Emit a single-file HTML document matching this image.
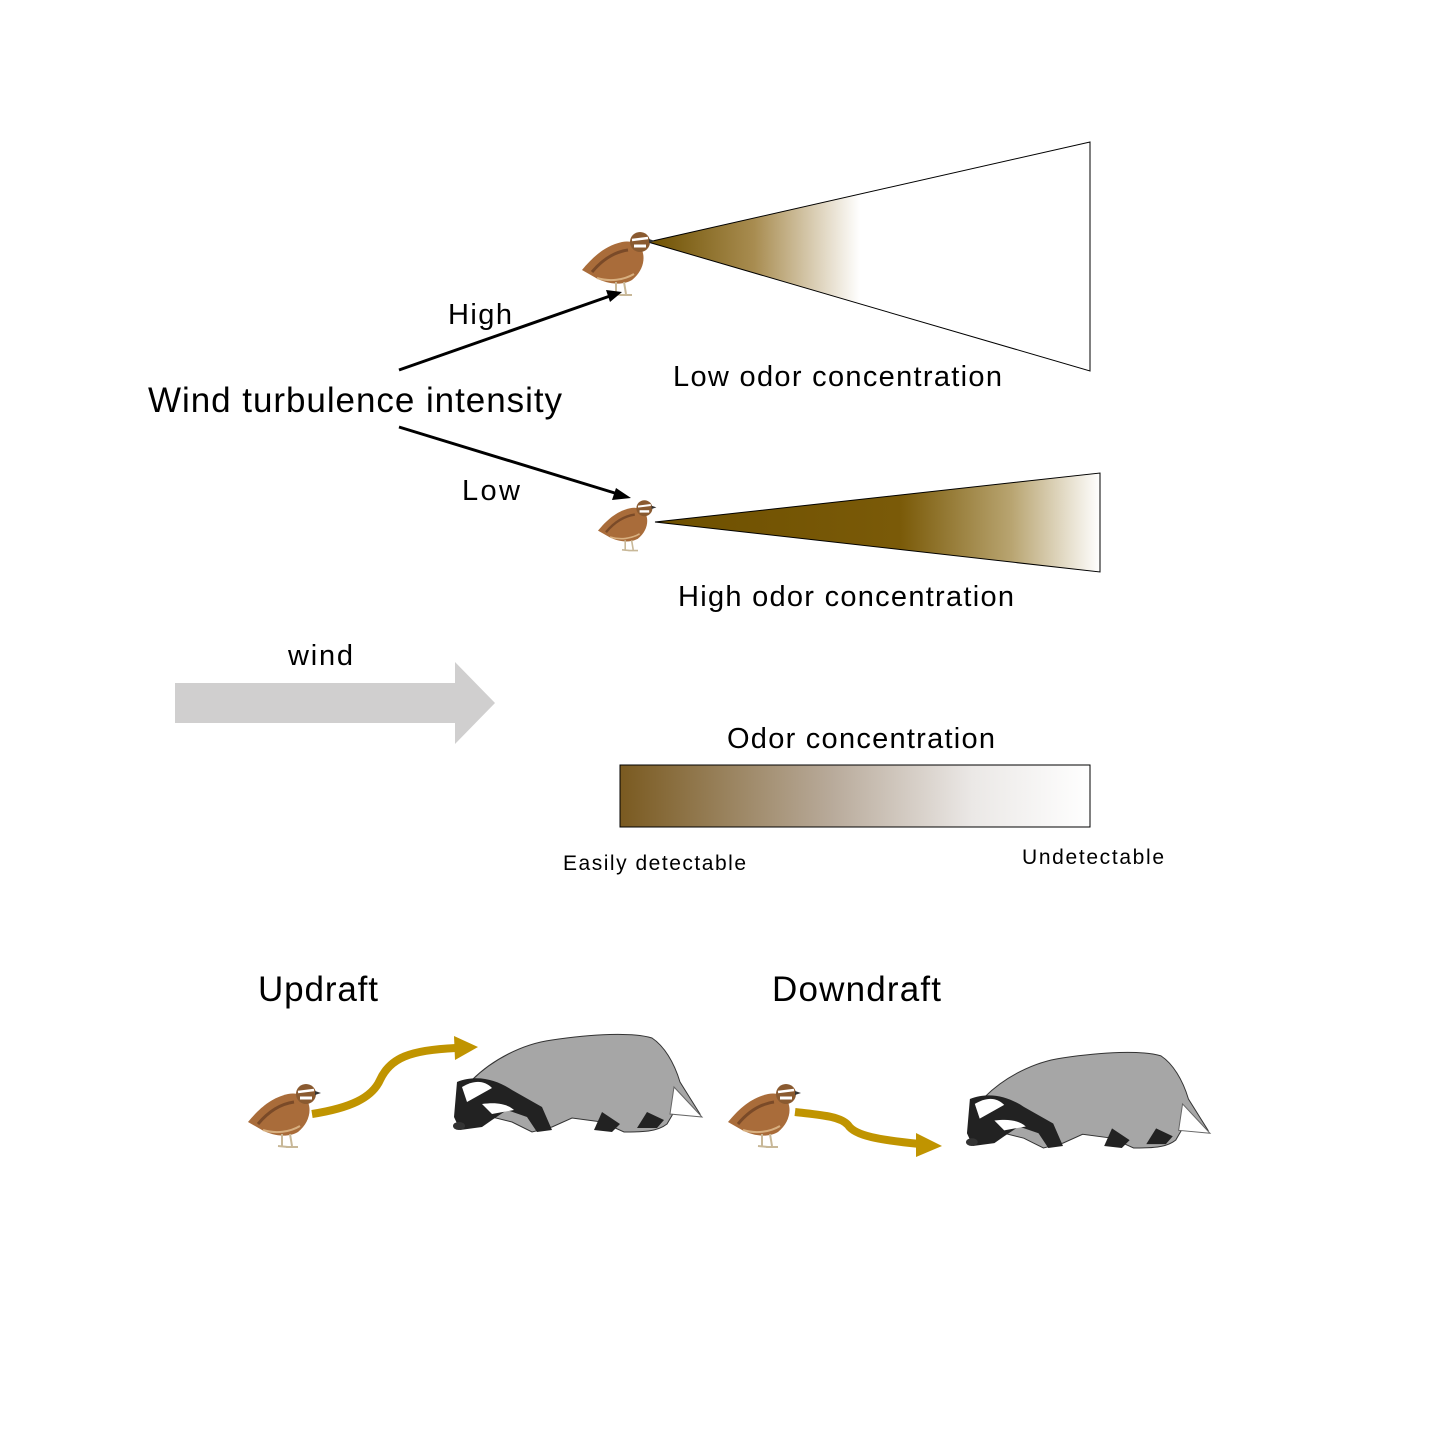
<!DOCTYPE html>
<html><head><meta charset="utf-8"><style>
body{margin:0;background:#fff}
svg{display:block}
text{font-family:"Liberation Sans",Arial,sans-serif;fill:#000}
</style></head><body>
<svg width="1440" height="1440" viewBox="0 0 1440 1440" xmlns="http://www.w3.org/2000/svg">
<defs>
<linearGradient id="g1" gradientUnits="userSpaceOnUse" x1="648" y1="0" x2="860" y2="0">
<stop offset="0" stop-color="#6e5000"/><stop offset="0.5" stop-color="#a88c50"/><stop offset="1" stop-color="#ffffff"/></linearGradient>
<linearGradient id="g2" gradientUnits="userSpaceOnUse" x1="655" y1="0" x2="1100" y2="0">
<stop offset="0" stop-color="#6e5000"/><stop offset="0.55" stop-color="#7a5a08"/><stop offset="0.8" stop-color="#b8a470"/><stop offset="1" stop-color="#ffffff"/></linearGradient>
<linearGradient id="g3" x1="0" y1="0" x2="1" y2="0">
<stop offset="0" stop-color="#7a5a20"/><stop offset="0.45" stop-color="#b8aa9a"/><stop offset="0.75" stop-color="#ebe8e6"/><stop offset="1" stop-color="#ffffff"/></linearGradient>
<g id="quail">
<path d="M0,42 C10,30 22,18 40,14 C50,12 56,16 60,22 C64,32 60,44 50,52 C40,58 25,56 14,50 Z" fill="#a96c3a"/>
<path d="M10,44 C20,32 32,24 46,22" stroke="#7a4a28" stroke-width="3" fill="none"/>
<path d="M15,50 C28,54 42,52 52,46" stroke="#d8b080" stroke-width="2" fill="none"/>
<circle cx="58" cy="14" r="10" fill="#8a5a30"/>
<path d="M50,12 L66,10" stroke="#fff" stroke-width="2.5"/>
<path d="M52,18 L64,18" stroke="#fff" stroke-width="3"/>
<path d="M67,11 L73,13 L67,15 Z" fill="#333"/>
<path d="M34,54 L34,66 M42,54 L44,66 M30,66 L40,67 M38,67 L50,67" stroke="#c8b898" stroke-width="2"/>
</g>
<g id="badger">
<path d="M20,48 C40,28 70,12 100,8 C140,2 180,0 200,6 C212,14 222,30 228,50 L248,82 L222,80 L215,92 C205,100 190,100 172,100 L150,90 L120,86 L100,95 L80,100 L60,90 L40,85 L12,92 L5,80 Z" fill="#a6a6a6" stroke="#333" stroke-width="1"/>
<path d="M222,55 L250,85 L218,82 Z" fill="#fff" stroke="#666" stroke-width="1"/>
<path d="M5,50 C25,42 45,48 60,58 L90,75 L100,98 L85,100 L75,85 L55,78 L40,88 L30,95 L8,98 L2,85 Z" fill="#222"/>
<path d="M10,55 C22,48 32,48 40,56 L15,70 Z" fill="#fff"/>
<path d="M30,72 C45,70 55,72 62,78 L40,82 Z" fill="#fff"/>
<path d="M150,80 L168,92 L160,100 L142,98 Z" fill="#222"/>
<path d="M195,80 L212,88 L205,96 L185,96 Z" fill="#222"/>
<ellipse cx="7" cy="94" rx="6" ry="4" fill="#333"/>
</g>
</defs>

<polygon points="648,242 1090,142 1090,371" fill="url(#g1)" stroke="#000" stroke-width="1"/>
<polygon points="655,522 1100,473 1100,572" fill="url(#g2)" stroke="#000" stroke-width="1"/>
<use href="#quail" transform="translate(582,228)"/>
<use href="#quail" transform="translate(598,497) scale(0.8)"/>

<line x1="399" y1="370" x2="610" y2="296" stroke="#000" stroke-width="3"/>
<polygon points="622,292 606,290 610,302" fill="#000"/>
<line x1="399" y1="427" x2="618" y2="494" stroke="#000" stroke-width="3"/>
<polygon points="631,498 616,488 612,500" fill="#000"/>

<text x="448" y="324" font-size="29" textLength="64">High</text>
<text x="462" y="500" font-size="29" textLength="58">Low</text>
<text x="148" y="412" font-size="35" textLength="414">Wind turbulence intensity</text>
<text x="673" y="386" font-size="29" textLength="329">Low odor concentration</text>
<text x="678" y="606" font-size="29" textLength="336">High odor concentration</text>

<polygon points="175,683 455,683 455,662 495,703 455,744 455,723 175,723" fill="#d0cfcf"/>
<text x="288" y="665" font-size="29" textLength="65">wind</text>

<text x="727" y="748" font-size="29" textLength="268">Odor concentration</text>
<rect x="620" y="765" width="470" height="62" fill="url(#g3)" stroke="#000" stroke-width="1"/>
<text x="563" y="870" font-size="21" textLength="183">Easily detectable</text>
<text x="1022" y="864" font-size="21" textLength="142">Undetectable</text>

<text x="258" y="1001" font-size="35" textLength="120">Updraft</text>
<text x="772" y="1001" font-size="35" textLength="169">Downdraft</text>

<use href="#quail" transform="translate(248,1080)"/>
<path d="M312,1114 C350,1108 372,1098 380,1080 C390,1058 410,1050 456,1048" stroke="#c09400" stroke-width="8" fill="none"/>
<polygon points="478,1047 454,1036 455,1060" fill="#c09400"/>
<use href="#badger" transform="translate(452,1032)"/>

<use href="#quail" transform="translate(728,1080)"/>
<path d="M795,1112 C820,1115 840,1116 848,1125 C855,1136 880,1140 920,1144" stroke="#c09400" stroke-width="8" fill="none"/>
<polygon points="942,1146 916,1133 916,1157" fill="#c09400"/>
<use href="#badger" transform="translate(965,1050) scale(0.98)"/>
</svg>
</body></html>
